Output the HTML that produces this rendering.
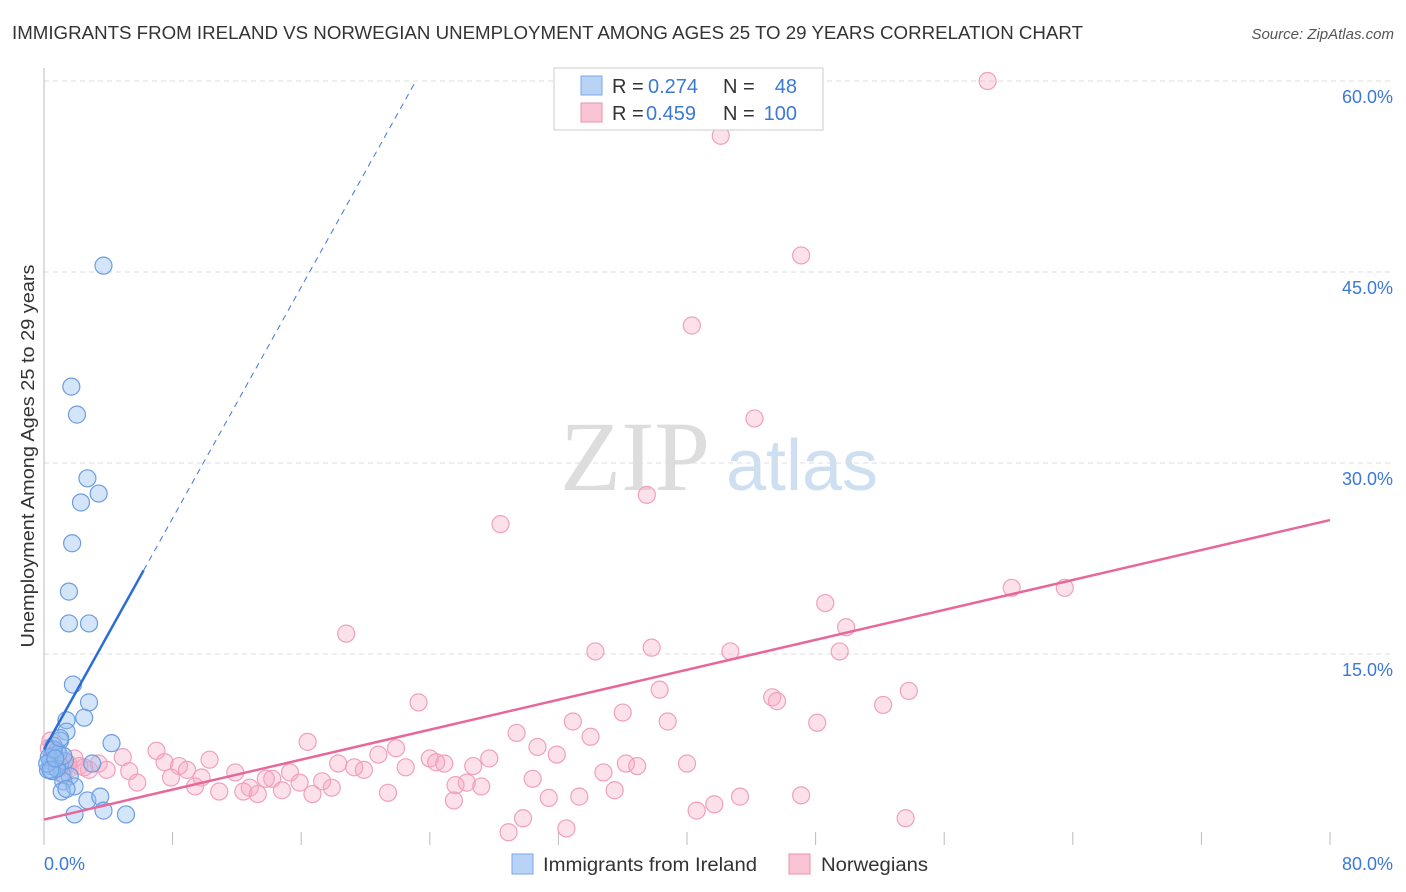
<!DOCTYPE html>
<html><head><meta charset="utf-8"><style>
body{margin:0;background:#fff;font-family:"Liberation Sans",sans-serif;}
svg{display:block}
</style></head><body>
<svg id="c" width="1406" height="892">
<text x="12" y="39" font-size="18" fill="#333" textLength="1071" lengthAdjust="spacingAndGlyphs">IMMIGRANTS FROM IRELAND VS NORWEGIAN UNEMPLOYMENT AMONG AGES 25 TO 29 YEARS CORRELATION CHART</text>
<text x="1394" y="39" font-size="15" fill="#555" font-style="italic" text-anchor="end">Source: ZipAtlas.com</text>
<text x="34" y="456" font-size="18" fill="#333" text-anchor="middle" textLength="383" lengthAdjust="spacingAndGlyphs" transform="rotate(-90 34 456)">Unemployment Among Ages 25 to 29 years</text>
<g><text x="635" y="490" font-size="100" fill="#ddd" text-anchor="middle" font-family="Liberation Serif,serif">ZIP</text><text x="802" y="490" font-size="72" fill="#cfdff2" text-anchor="middle">atlas</text></g>
<g id="grid"></g><g id="axes"></g><g id="pts"></g><g id="lines"></g>
<g>
<rect x="554" y="68" width="269" height="62" fill="#fff" stroke="#ccc"/>
<rect x="581" y="76" width="21" height="19" fill="#b8d3f5" stroke="#7aa7e6"/>
<rect x="581" y="103" width="21" height="19" fill="#f9c5d5" stroke="#ee8fae"/>
<text x="612" y="93" font-size="20" fill="#333">R =</text>
<text x="648" y="93" font-size="20" fill="#3b78d8">0.274</text>
<text x="723" y="93" font-size="20" fill="#333">N =</text>
<text x="797" y="93" font-size="20" fill="#3b78d8" text-anchor="end">48</text>
<text x="612" y="120" font-size="20" fill="#333">R =</text>
<text x="646" y="120" font-size="20" fill="#3b78d8">0.459</text>
<text x="723" y="120" font-size="20" fill="#333">N =</text>
<text x="797" y="120" font-size="20" fill="#3b78d8" text-anchor="end">100</text>
</g>
<g>
<rect x="512" y="854" width="21" height="20" fill="#b8d3f5" stroke="#7aa7e6"/>
<text x="543" y="871" font-size="19" fill="#333" textLength="214" lengthAdjust="spacingAndGlyphs">Immigrants from Ireland</text>
<rect x="789" y="854" width="21" height="20" fill="#f9c5d5" stroke="#ee8fae"/>
<text x="821" y="871" font-size="19" fill="#333" textLength="107" lengthAdjust="spacingAndGlyphs">Norwegians</text>
</g>
</svg>
<script>
const yTicks=[15,30,45,60];
const yTickLabels=["15.0%","30.0%","45.0%","60.0%"];
const xTicks=[0,8,16,24,32,40,48,56,64,72,80];
const blueX=[3.7,1.7,2.05,2.7,3.4,2.3,1.75,1.55,1.55,2.8,1.8,2.8,2.5,1.4,1.4,4.2,1.0,0.8,0.5,0.7,0.4,0.25,1.0,1.1,1.3,3.0,1.6,1.2,1.9,1.1,1.4,2.7,3.5,1.9,3.7,5.1,0.4,0.6,0.9,0.3,0.5,0.8,1.2,0.2,0.6,1.0,0.4,0.7];
const blueY=[45.5,36,33.8,28.8,27.6,26.9,23.7,19.9,17.4,17.4,12.6,11.2,10,9.8,8.9,8,8.2,7.4,7.0,6.6,6.2,5.9,6.2,5.6,6.6,6.4,5.4,5.0,4.6,4.2,4.4,3.5,3.8,2.4,2.7,2.4,6.6,7.8,7.2,6.9,5.8,6.0,7.0,6.4,7.5,8.4,5.9,6.8];
const pinkX=[58.7,42.1,47.1,40.3,44.2,37.5,28.4,60.2,63.5,48.6,49.9,18.8,34.3,37.8,42.7,49.5,38.3,53.8,45.3,45.6,52.2,23.3,36,32.9,38.8,48.1,29.4,34,16.4,30.7,21.9,7,20.8,31.9,10.3,24,24.4,27.7,4.9,3.4,7.5,8.4,8.9,18.3,19.3,19.9,22.5,24.9,26.7,36.2,36.9,40,3.9,5.3,11.9,15.3,14.2,9.8,7.9,13.8,17.3,30.4,34.8,26.3,5.8,9.4,10.9,12.8,15.9,17.9,12.4,13.3,14.8,16.7,21.4,27.2,25.6,35.5,31.4,33.3,43.3,47.1,25.5,41.7,40.6,29.8,28.9,32.5,53.6,0.4,0.7,1.1,1.6,2.2,2.8,1.5,0.3,1.9,2.5,1.2];
const pinkY=[60,55.7,46.3,40.8,33.5,27.5,25.2,20.2,20.2,19,17.1,16.6,15.2,15.5,15.2,15.2,12.2,12.1,11.6,11.3,11,11.2,10.4,9.7,9.7,9.6,8.8,8.5,8.1,7.7,7.6,7.4,7.1,7.1,6.7,6.8,6.5,6.8,6.9,6.4,6.5,6.2,5.9,6.4,6.1,5.9,6.1,6.4,6.2,6.4,6.2,6.4,5.9,5.8,5.7,5.7,5.2,5.3,5.3,5.2,5,5.2,5.7,4.9,4.9,4.6,4.2,4.5,4.9,4.5,4.2,4,4.3,4,4.1,4.6,4.7,4.3,3.7,3.8,3.8,3.9,3.5,3.2,2.7,2.1,1,1.3,2.1,8.2,7.0,6.6,6.0,6.2,5.9,6.4,7.6,6.8,6.1,5.6];
const blueTrend=[7.5,2.27];
const pinkTrend=[2.0,0.294];
const X=v=>44+v*16.075, Y=v=>845-v*12.733;
const NS='http://www.w3.org/2000/svg';
function mk(p,t,a){const e=document.createElementNS(NS,t);for(const k in a)e.setAttribute(k,a[k]);p.appendChild(e);return e;}
const grid=document.getElementById('grid'),axes=document.getElementById('axes'),pts=document.getElementById('pts'),lines=document.getElementById('lines');
yTicks.forEach((t,i)=>{
 const l=mk(grid,'line',{x1:44,x2:1394,y1:Y(t),y2:Y(t),stroke:'#ddd','stroke-dasharray':'5,4'});
 
 
 const tx=mk(axes,'text',{x:1393,y:Y(t)+22,'font-size':18,fill:'#3b78d8','text-anchor':'end'});
 tx.textContent=yTickLabels[i];
 
 
});
const ya=mk(axes,'line',{x1:44,x2:44,y1:68,y2:845,stroke:'#bbb'});


xTicks.forEach(t=>{
 const l=mk(axes,'line',{x1:X(t),x2:X(t),y1:832,y2:845,stroke:'#bbb'});
 
 
});
const x0=mk(axes,'text',{x:44,y:870,'font-size':18,fill:'#3b78d8'});x0.textContent='0.0%';


const x1=mk(axes,'text',{x:1393,y:870,'font-size':18,fill:'#3b78d8','text-anchor':'end'});x1.textContent='80.0%';


pinkX.forEach((v,i)=>{
 const c=mk(pts,'circle',{cx:X(v),cy:Y(pinkY[i]),r:8.5,fill:'rgba(246,170,196,0.35)',stroke:'#f0a0ba','stroke-width':1.2});
 
 
});
blueX.forEach((v,i)=>{
 const c=mk(pts,'circle',{cx:X(v),cy:Y(blueY[i]),r:8.5,fill:'rgba(150,190,240,0.4)',stroke:'#6b9de0','stroke-width':1.2});
 
 
});
const bEnd=(60-blueTrend[0])/blueTrend[1];
const bd=mk(lines,'line',{x1:X(6.2),y1:Y(blueTrend[0]+blueTrend[1]*6.2),x2:X(bEnd),y2:Y(60),stroke:'#3b78d8','stroke-width':1,'stroke-dasharray':'6,5'});


const bs=mk(lines,'line',{x1:X(0),y1:Y(blueTrend[0]),x2:X(6.2),y2:Y(blueTrend[0]+blueTrend[1]*6.2),stroke:'#2a6dd6','stroke-width':2.5});


const ps=mk(lines,'line',{x1:X(0),y1:Y(pinkTrend[0]),x2:X(80),y2:Y(pinkTrend[0]+pinkTrend[1]*80),stroke:'#e8679a','stroke-width':2.5});


</script>
</body></html>
